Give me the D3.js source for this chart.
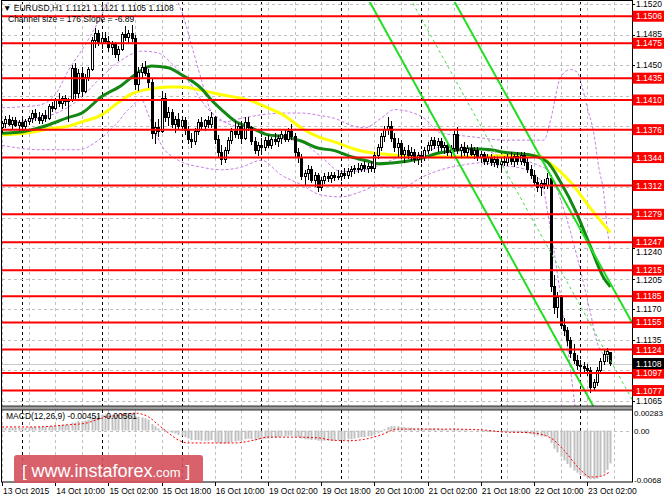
<!DOCTYPE html>
<html><head><meta charset="utf-8">
<script src="https://cdn.jsdelivr.net/npm/d3@7"></script>
<style>body{margin:0;background:#fff}svg{display:block}text{font-family:"Liberation Sans",Arial,sans-serif}</style>
</head><body><svg id="c" width="664" height="498"></svg>
<script>
// ---------------- DATA ----------------
const symbolTitle = "EURUSD,H1";
const lastOHLC = ["1.1121","1.1121","1.1105","1.1108"];
const channelText = "Channel size = 176 Slope = -6.89";
const macdText = "MACD(12,26,9) -0.00451 -0.00561";

const open = [1.1378,1.1383,1.1388,1.1382,1.1386,1.1381,1.1384,1.1380,1.1385,1.1389,
1.1394,1.1390,1.1387,1.1392,1.1389,1.1402,1.1400,1.1410,1.1406,1.1412,
1.1408,1.1410,1.1446,1.1418,1.1440,1.1420,1.1436,1.1445,1.1478,1.1486,
1.1475,1.1480,1.1477,1.1470,1.1474,1.1462,1.1468,1.1485,1.1482,1.1486,
1.1480,1.1428,1.1442,1.1447,1.1440,1.1430,1.1372,1.1378,1.1374,1.1412,
1.1390,1.1396,1.1382,1.1388,1.1380,1.1386,1.1375,1.1365,1.1362,1.1374,
1.1384,1.1380,1.1386,1.1382,1.1390,1.1365,1.1350,1.1342,1.1352,1.1364,
1.1374,1.1370,1.1380,1.1366,1.1384,1.1378,1.1362,1.1352,1.1358,1.1355,
1.1364,1.1358,1.1365,1.1362,1.1366,1.1370,1.1365,1.1374,1.1368,1.1350,
1.1344,1.1322,1.1326,1.1330,1.1318,1.1324,1.1310,1.1318,1.1322,1.1320,
1.1324,1.1321,1.1322,1.1326,1.1324,1.1328,1.1330,1.1332,1.1330,1.1335,
1.1332,1.1334,1.1332,1.1346,1.1356,1.1368,1.1376,1.1380,1.1366,1.1356,
1.1360,1.1348,1.1352,1.1346,1.1350,1.1342,1.1346,1.1344,1.1352,1.1358,
1.1364,1.1358,1.1362,1.1355,1.1358,1.1350,1.1354,1.1370,1.1352,1.1356,
1.1350,1.1354,1.1348,1.1352,1.1344,1.1348,1.1340,1.1344,1.1338,1.1342,
1.1336,1.1340,1.1338,1.1344,1.1340,1.1345,1.1340,1.1346,1.1338,1.1330,
1.1324,1.1316,1.1310,1.1314,1.1312,1.1320,1.1196,1.1172,1.1184,1.1152,
1.1146,1.1134,1.1120,1.1112,1.1106,1.1104,1.1102,1.1100,1.1080,1.1086,
1.1100,1.1110,1.1118,1.1121];
const high = [1.1386,1.1392,1.1393,1.1390,1.1391,1.1387,1.1390,1.1388,1.1392,1.1398,
1.1400,1.1396,1.1395,1.1399,1.1405,1.1408,1.1412,1.1418,1.1415,1.1416,
1.1412,1.1450,1.1452,1.1445,1.1448,1.1440,1.1448,1.1482,1.1492,1.1490,
1.1485,1.1488,1.1483,1.1478,1.1477,1.1472,1.1488,1.1495,1.1490,1.1496,
1.1484,1.1448,1.1452,1.1455,1.1446,1.1434,1.1385,1.1388,1.1420,1.1418,
1.1402,1.1400,1.1392,1.1395,1.1392,1.1390,1.1380,1.1372,1.1378,1.1388,
1.1390,1.1388,1.1392,1.1396,1.1392,1.1370,1.1358,1.1356,1.1368,1.1378,
1.1386,1.1384,1.1386,1.1390,1.1390,1.1380,1.1368,1.1362,1.1366,1.1368,
1.1370,1.1368,1.1372,1.1370,1.1374,1.1376,1.1378,1.1382,1.1372,1.1355,
1.1348,1.1330,1.1336,1.1334,1.1328,1.1326,1.1322,1.1326,1.1328,1.1327,
1.1328,1.1330,1.1329,1.1332,1.1332,1.1334,1.1336,1.1338,1.1338,1.1340,
1.1338,1.1340,1.1350,1.1360,1.1372,1.1380,1.1390,1.1386,1.1372,1.1366,
1.1364,1.1356,1.1358,1.1356,1.1354,1.1350,1.1352,1.1356,1.1362,1.1368,
1.1368,1.1366,1.1366,1.1362,1.1362,1.1358,1.1375,1.1379,1.1360,1.1362,
1.1358,1.1360,1.1356,1.1356,1.1352,1.1350,1.1348,1.1348,1.1346,1.1346,
1.1344,1.1346,1.1348,1.1350,1.1348,1.1350,1.1350,1.1350,1.1344,1.1336,
1.1330,1.1322,1.1318,1.1320,1.1326,1.1324,1.1210,1.1190,1.1186,1.1160,
1.1150,1.1138,1.1130,1.1118,1.1112,1.1110,1.1108,1.1104,1.1090,1.1104,
1.1114,1.1124,1.1126,1.1121];
const low = [1.1372,1.1378,1.1380,1.1376,1.1379,1.1375,1.1378,1.1376,1.1381,1.1384,
1.1386,1.1383,1.1382,1.1385,1.1387,1.1396,1.1398,1.1402,1.1400,1.1403,
1.1385,1.1408,1.1410,1.1412,1.1413,1.1418,1.1432,1.1443,1.1470,1.1472,
1.1468,1.1474,1.1465,1.1462,1.1458,1.1455,1.1466,1.1478,1.1474,1.1476,
1.1422,1.1420,1.1435,1.1438,1.1424,1.1365,1.1360,1.1368,1.1372,1.1385,
1.1380,1.1378,1.1372,1.1377,1.1376,1.1370,1.1360,1.1355,1.1358,1.1370,
1.1376,1.1374,1.1378,1.1378,1.1360,1.1345,1.1335,1.1338,1.1348,1.1360,
1.1366,1.1365,1.1360,1.1364,1.1375,1.1358,1.1348,1.1346,1.1350,1.1352,
1.1355,1.1354,1.1358,1.1356,1.1360,1.1362,1.1362,1.1364,1.1345,1.1338,
1.1318,1.1312,1.1318,1.1315,1.1310,1.1304,1.1306,1.1314,1.1316,1.1315,
1.1317,1.1318,1.1317,1.1320,1.1320,1.1322,1.1325,1.1326,1.1327,1.1328,
1.1326,1.1328,1.1326,1.1342,1.1352,1.1362,1.1370,1.1362,1.1350,1.1344,
1.1342,1.1338,1.1342,1.1340,1.1338,1.1336,1.1338,1.1340,1.1348,1.1352,
1.1354,1.1350,1.1352,1.1348,1.1346,1.1344,1.1350,1.1348,1.1344,1.1346,
1.1344,1.1346,1.1342,1.1340,1.1338,1.1336,1.1335,1.1334,1.1333,1.1332,
1.1330,1.1334,1.1334,1.1336,1.1333,1.1336,1.1336,1.1334,1.1326,1.1320,
1.1312,1.1305,1.1300,1.1308,1.1308,1.1190,1.1165,1.1160,1.1148,1.1140,
1.1128,1.1114,1.1108,1.1100,1.1098,1.1096,1.1094,1.1074,1.1076,1.1082,
1.1096,1.1106,1.1110,1.1105];
const close = [1.1383,1.1388,1.1382,1.1386,1.1381,1.1384,1.1380,1.1385,1.1389,1.1394,
1.1390,1.1387,1.1392,1.1389,1.1402,1.1400,1.1410,1.1406,1.1412,1.1408,
1.1410,1.1446,1.1418,1.1440,1.1420,1.1436,1.1445,1.1478,1.1486,1.1475,
1.1480,1.1477,1.1470,1.1474,1.1462,1.1468,1.1485,1.1482,1.1486,1.1480,
1.1428,1.1442,1.1447,1.1440,1.1430,1.1372,1.1378,1.1374,1.1412,1.1390,
1.1396,1.1382,1.1388,1.1380,1.1386,1.1375,1.1365,1.1362,1.1374,1.1384,
1.1380,1.1386,1.1382,1.1390,1.1365,1.1350,1.1342,1.1352,1.1364,1.1374,
1.1370,1.1380,1.1366,1.1384,1.1378,1.1362,1.1352,1.1358,1.1355,1.1364,
1.1358,1.1365,1.1362,1.1366,1.1370,1.1365,1.1374,1.1368,1.1350,1.1344,
1.1322,1.1326,1.1330,1.1318,1.1324,1.1310,1.1318,1.1322,1.1320,1.1324,
1.1321,1.1322,1.1326,1.1324,1.1328,1.1330,1.1332,1.1330,1.1335,1.1332,
1.1334,1.1332,1.1346,1.1356,1.1368,1.1376,1.1380,1.1366,1.1356,1.1360,
1.1348,1.1352,1.1346,1.1350,1.1342,1.1346,1.1344,1.1352,1.1358,1.1364,
1.1358,1.1362,1.1355,1.1358,1.1350,1.1354,1.1370,1.1352,1.1356,1.1350,
1.1354,1.1348,1.1352,1.1344,1.1348,1.1340,1.1344,1.1338,1.1342,1.1336,
1.1340,1.1338,1.1344,1.1340,1.1345,1.1340,1.1346,1.1338,1.1330,1.1324,
1.1316,1.1310,1.1314,1.1312,1.1320,1.1196,1.1172,1.1184,1.1152,1.1146,
1.1134,1.1120,1.1112,1.1106,1.1104,1.1102,1.1100,1.1080,1.1086,1.1100,
1.1110,1.1118,1.1122,1.1108];

// moving averages as [bar index, price]
const maGreen = [[0,1.1372],[5,1.1373],[12,1.1379],[20,1.1390],[24,1.1395],[30,1.1414],[36,1.1427],[40,1.1439],[45,1.1449],[50,1.1447],[54,1.1439],[60,1.1423],[63,1.1410],[66,1.1399],[70,1.1386],[75,1.1378],[80,1.1370],[85,1.1368],[90,1.1363],[95,1.1355],[100,1.1352],[105,1.1345],[110,1.1340],[113,1.1337],[120,1.1339],[126,1.1343],[131,1.1349],[136,1.1352],[141,1.1354],[147,1.1353],[151,1.1350],[159,1.1347],[164,1.1339],[168,1.1316],[173,1.1279],[177,1.1242],[181,1.1206],[183,1.1196]];
const maYellow = [[0,1.1370],[9,1.1373],[14,1.1377],[20,1.1380],[24,1.1385],[30,1.1393],[35,1.1407],[39,1.1417],[45,1.1423],[50,1.1425],[54,1.1425],[60,1.1421],[66,1.1416],[75,1.1409],[80,1.1401],[85,1.1392],[90,1.1378],[95,1.1368],[100,1.1362],[105,1.1355],[110,1.1350],[115,1.1348],[121,1.1346],[131,1.1345],[141,1.1345],[151,1.1346],[161,1.1346],[165,1.1337],[171,1.1316],[177,1.1286],[183,1.1258]];
// Bollinger bands (dotted violet)
const bbUpper = [[0,1.1401],[5,1.1402],[11,1.1404],[16,1.1416],[20,1.1444],[25,1.1473],[29,1.1500],[33,1.1530],[38,1.1545],[45,1.1550],[50,1.1540],[54,1.1512],[57,1.1473],[60,1.1433],[63,1.1396],[67,1.1385],[72,1.1389],[78,1.1393],[85,1.1395],[90,1.1395],[96,1.1392],[100,1.1389],[105,1.1381],[109,1.1378],[114,1.1389],[118,1.1399],[123,1.1396],[127,1.1389],[132,1.1372],[136,1.1370],[141,1.1368],[151,1.1364],[159,1.1364],[163,1.1364],[165,1.1387],[168,1.1436],[171,1.1445],[173,1.1442],[174.5,1.1425],[176,1.1402],[178,1.1372],[179.5,1.1333],[181,1.1303],[182,1.1264],[183,1.1238]];
const bbMiddle = [[0,1.1382],[5,1.1385],[11,1.1389],[17,1.1396],[23,1.1410],[29,1.1433],[36,1.1456],[42,1.1466],[47,1.1464],[51,1.1452],[57,1.1427],[61,1.1404],[66,1.1387],[72,1.1378],[78,1.1374],[84,1.1366],[90,1.1362],[96,1.1345],[102,1.1328],[108,1.1329],[114,1.1336],[120,1.1345],[126,1.1348],[132,1.1356],[138,1.1356],[144,1.1354],[150,1.1346],[156,1.1342],[162,1.1334],[164,1.1330],[166,1.1316],[170,1.1272],[173,1.1230],[177,1.1166],[179,1.1132],[182,1.1115],[183,1.1112]];
const bbLower = [[0,1.1358],[5,1.1355],[11,1.1353],[17,1.1353],[23,1.1353],[29,1.1364],[34,1.1381],[38,1.1399],[42,1.1410],[44,1.1393],[48,1.1358],[53,1.1341],[60,1.1333],[66,1.1330],[72,1.1333],[78,1.1341],[84,1.1324],[90,1.1313],[96,1.1301],[102,1.1299],[108,1.1305],[114,1.1313],[120,1.1309],[126,1.1321],[132,1.1330],[138,1.1335],[144,1.1338],[150,1.1335],[156,1.1332],[162,1.1318],[165,1.1261],[169,1.1158],[171,1.1101],[172.5,1.1055]];

// regression channel
const channelSlope = -0.000689;   // per bar (-6.89 pips)
const channelSize = 0.0176;       // 176 pips
const channelAnchorBar = 150;
const channelLowerAtAnchor = 1.1251;

// support / resistance levels
const levels = [1.1506,1.1475,1.1435,1.1410,1.1376,1.1344,1.1312,1.1279,1.1247,1.1215,1.1185,1.1155,1.1124,1.1097,1.1077];
const priceTicks = [1.1520,1.1485,1.1450,1.1415,1.1380,1.1345,1.1310,1.1275,1.1240,1.1205,1.1170,1.1135,1.1100,1.1065];
const bidPrice = 1.1108;

// MACD
const macdHist = [0.0004,0.0004,0.0004,0.0004,0.0004,0.0004,0.0004,0.0004,0.0005,0.0005,
0.0005,0.0005,0.0005,0.0005,0.0006,0.0006,0.0007,0.0007,0.0008,0.0008,
0.0008,0.0011,0.0011,0.0013,0.0013,0.0014,0.0015,0.0018,0.0020,0.0021,
0.0022,0.0022,0.0022,0.0022,0.0021,0.0021,0.0022,0.0023,0.0024,0.0024,
0.0020,0.0019,0.0018,0.0017,0.0015,0.0009,0.0006,0.0003,0.0003,0.0001,
-0.0001,-0.0003,-0.0004,-0.0006,-0.0007,-0.0009,-0.0011,-0.0013,-0.0013,-0.0013,
-0.0014,-0.0014,-0.0014,-0.0013,-0.0015,-0.0017,-0.0018,-0.0018,-0.0017,-0.0016,
-0.0015,-0.0014,-0.0014,-0.0012,-0.0011,-0.0012,-0.0013,-0.0012,-0.0012,-0.0011,
-0.0011,-0.0010,-0.0010,-0.0009,-0.0008,-0.0008,-0.0007,-0.0007,-0.0008,-0.0009,
-0.0011,-0.0012,-0.0012,-0.0013,-0.0013,-0.0014,-0.0014,-0.0014,-0.0014,-0.0014,
-0.0014,-0.0013,-0.0013,-0.0013,-0.0012,-0.0012,-0.0011,-0.0010,-0.0009,-0.0009,
-0.0008,-0.0008,-0.0006,-0.0004,-0.0001,0.0002,0.0005,0.0006,0.0006,0.0006,
0.0005,0.0005,0.0004,0.0004,0.0003,0.0003,0.0002,0.0002,0.0003,0.0003,
0.0003,0.0003,0.0002,0.0002,0.0001,0.0001,0.0003,0.0002,0.0002,0.0001,
0.0001,0.0000,0.0000,-0.0001,-0.0001,-0.0001,-0.0002,-0.0002,-0.0002,-0.0002,
-0.0002,-0.0002,-0.0002,-0.0002,-0.0002,-0.0002,-0.0002,-0.0003,-0.0004,-0.0005,
-0.0006,-0.0007,-0.0008,-0.0008,-0.0008,-0.0017,-0.0025,-0.0030,-0.0036,-0.0041,
-0.0046,-0.0051,-0.0055,-0.0058,-0.0061,-0.0063,-0.0065,-0.0067,-0.0067,-0.0066,
-0.0063,-0.0059,-0.0054,-0.00451];
const macdSignal = [[0,0.0005],[10,0.0005],[20,0.0008],[25,0.0010],[30,0.0017],[35,0.0021],[40,0.0024],[44,0.0019],[47,0.0008],[50,-0.0003],[53,-0.0013],[56,-0.0017],[70,-0.0017],[76,-0.0013],[80,-0.0009],[88,-0.0009],[95,-0.0010],[99,-0.0013],[104,-0.0014],[109,-0.0012],[114,-0.0006],[119,0.0002],[126,0.0002],[134,0.0002],[144,0.0001],[151,-0.0002],[159,-0.0003],[165,-0.0010],[169,-0.0027],[174,-0.0054],[177,-0.0064],[180,-0.0063],[183,-0.00561]];
const macdTicks = [0.00283, 0.00, -0.0068];
const macdTickLabels = ["0.00283","0.00","-0.0068"];

// time axis
const timeLabels = ["13 Oct 2015","14 Oct 10:00","15 Oct 02:00","15 Oct 18:00","16 Oct 10:00","19 Oct 02:00","19 Oct 18:00","20 Oct 10:00","21 Oct 02:00","21 Oct 18:00","22 Oct 10:00","23 Oct 02:00"];
const labelStepBars = 16, gridStepBars = 8;
const daySeparatorBars = [6,30,54,78,102,126,150,174];

// ---------------- DRAW ----------------
const svg = d3.select("#c");
const L = 2, R = 632, mTop = 2, mBot = 406, dTop = 410, dBot = 482;
const x = d3.scaleLinear().domain([0, 189.5]).range([L, R]);
const y = d3.scaleLinear().domain([1.10593, 1.15223]).range([mBot, mTop]);
const ym = d3.scaleLinear().domain([-0.0068, 0.00283]).range([480, dTop]);

svg.append("rect").attr("width",664).attr("height",498).attr("fill","#fff");
const defs = svg.append("defs");
defs.append("clipPath").attr("id","cm").append("rect").attr("x",L).attr("y",mTop).attr("width",R-L).attr("height",mBot-mTop);
defs.append("clipPath").attr("id","cd").append("rect").attr("x",L).attr("y",dTop).attr("width",R-L).attr("height",dBot-dTop);

const gm = svg.append("g").attr("clip-path","url(#cm)");
const gd = svg.append("g").attr("clip-path","url(#cd)");

// grid
const gridBars = d3.range(0, 190, gridStepBars);
[gm, gd].forEach((g, k) => {
  g.selectAll(null).data(gridBars).join("line")
    .attr("x1",d=>Math.round(x(d))+0.5).attr("x2",d=>Math.round(x(d))+0.5)
    .attr("y1",k?dTop:mTop).attr("y2",k?dBot:mBot)
    .attr("stroke","#c0c0c0").attr("stroke-dasharray","3,3");
  g.selectAll(null).data(daySeparatorBars).join("line")
    .attr("x1",d=>Math.round(x(d))+0.5).attr("x2",d=>Math.round(x(d))+0.5)
    .attr("y1",k?dTop:mTop).attr("y2",k?dBot:mBot)
    .attr("stroke","#000").attr("stroke-dasharray","3,3");
});
gm.selectAll(null).data(priceTicks).join("line")
  .attr("x1",L).attr("x2",R).attr("y1",d=>Math.round(y(d))+0.5).attr("y2",d=>Math.round(y(d))+0.5)
  .attr("stroke","#c0c0c0").attr("stroke-dasharray","3,3");
gd.append("line").attr("x1",L).attr("x2",R).attr("y1",Math.round(ym(0))+0.5).attr("y2",Math.round(ym(0))+0.5)
  .attr("stroke","#c0c0c0").attr("stroke-dasharray","3,3");

// bid line
gm.append("line").attr("x1",L).attr("x2",R).attr("y1",Math.round(y(bidPrice))+0.5).attr("y2",Math.round(y(bidPrice))+0.5).attr("stroke","#c8c8c8");

// bollinger bands
const ln = d3.line().x(d=>x(d[0])).y(d=>y(d[1])).curve(d3.curveMonotoneX);
[bbUpper, bbMiddle, bbLower].forEach(s => gm.append("path").attr("d", ln(s)).attr("fill","none")
  .attr("stroke","#c77ee6").attr("stroke-width",1).attr("stroke-dasharray","3,2"));

// moving averages
gm.append("path").attr("d", ln(maYellow)).attr("fill","none").attr("stroke","#ffff00").attr("stroke-width",3);
gm.append("path").attr("d", ln(maGreen)).attr("fill","none").attr("stroke","#128712").attr("stroke-width",3);

// candles
const bars = close.map((c,i)=>({i,o:open[i],h:high[i],l:low[i],c}));
const cg = gm.append("g").attr("shape-rendering","crispEdges");
cg.selectAll("line").data(bars).join("line")
  .attr("x1",d=>Math.round(x(d.i))+0.5).attr("x2",d=>Math.round(x(d.i))+0.5)
  .attr("y1",d=>y(d.h)).attr("y2",d=>y(d.l)).attr("stroke","#000");
cg.selectAll("rect").data(bars).join("rect")
  .attr("x",d=>Math.round(x(d.i))-0.5).attr("width",2)
  .attr("y",d=>Math.min(y(d.o),y(d.c))).attr("height",d=>Math.max(1,Math.abs(y(d.o)-y(d.c))))
  .attr("fill",d=>d.c>=d.o?"#fff":"#000").attr("stroke","#000").attr("stroke-width",1);

// channel
const chLow = i => channelLowerAtAnchor + channelSlope*(i-channelAnchorBar);
const chBars = [100, 189.5];
const chLine = off => d3.line().x(i=>x(i)).y(i=>y(chLow(i)+off))(chBars);
gm.append("path").attr("d",chLine(0)).attr("stroke","#22dd22").attr("stroke-width",2).attr("fill","none");
gm.append("path").attr("d",chLine(channelSize)).attr("stroke","#22dd22").attr("stroke-width",2).attr("fill","none");
gm.append("path").attr("d",chLine(channelSize/2)).attr("stroke","#44dd44").attr("stroke-width",1).attr("stroke-dasharray","3,3").attr("fill","none");

// levels
gm.selectAll(null).data(levels).join("line")
  .attr("x1",L).attr("x2",R).attr("y1",d=>y(d)).attr("y2",d=>y(d))
  .attr("stroke","#ff0000").attr("stroke-width",2);

// MACD
gd.selectAll(null).data(macdHist).join("rect")
  .attr("x",(d,i)=>Math.round(x(i))-0.5).attr("width",2)
  .attr("y",d=>Math.min(ym(0),ym(d))).attr("height",d=>Math.abs(ym(d)-ym(0)))
  .attr("fill","#c0c0c0");
gd.append("path").attr("d", d3.line().x(d=>x(d[0])).y(d=>ym(d[1])).curve(d3.curveMonotoneX)(macdSignal))
  .attr("fill","none").attr("stroke","#ff0000").attr("stroke-width",1).attr("stroke-dasharray","2,2");

// frames
svg.append("rect").attr("x",1.5).attr("y",0.5).attr("width",R-1).attr("height",dBot-0.5).attr("fill","none").attr("stroke","#000");
svg.append("rect").attr("x",1.5).attr("y",mBot).attr("width",R-1).attr("height",dTop-mBot).attr("fill","#a0a0a0").attr("stroke","#000").attr("stroke-width",0.8);

// price axis: labels covered by a level box are hidden, near ones nudged clear of the box
const boxed = levels.concat([bidPrice]);
const tickInfo = priceTicks.map(t => {
  const ty = y(t);
  let near = null, dist = 1e9;
  boxed.forEach(b => { const d = Math.abs(y(b)-ty); if (d < dist) { dist = d; near = y(b); } });
  let ly = ty;
  if (dist < 9.5) ly = ty < near ? near - 9.5 : near + 9.5;
  return {t, ly, show: dist >= 5};
});
const ax = svg.append("g");
ax.selectAll(null).data(priceTicks).join("line").attr("x1",R).attr("x2",R+3).attr("y1",d=>Math.round(y(d))+0.5).attr("y2",d=>Math.round(y(d))+0.5).attr("stroke","#000");
ax.selectAll(null).data(tickInfo.filter(d=>d.show)).join("text").attr("x",R+4).attr("y",d=>d.ly+3).attr("font-size",8.5).attr("fill","#000").text(d=>d.t.toFixed(4));
const lv = ax.selectAll(null).data(levels).join("g").attr("transform",d=>`translate(${R},${y(d)})`);
lv.append("rect").attr("x",0.5).attr("y",-5.5).attr("width",31.5).attr("height",11).attr("fill","#ff0000");
lv.append("text").attr("x",4).attr("y",3).attr("font-size",8.5).attr("fill","#fff").text(d=>d.toFixed(4));
const bid = ax.append("g").attr("transform",`translate(${R},${y(bidPrice)})`);
bid.append("rect").attr("x",0.5).attr("y",-5.5).attr("width",31.5).attr("height",11).attr("fill","#000");
bid.append("text").attr("x",4).attr("y",3).attr("font-size",8.5).attr("fill","#fff").text(bidPrice.toFixed(4));

// macd axis
ax.selectAll(null).data(macdTicks).join("text").attr("x",R+2).attr("y",(d,i)=>ym(d)+(i===0?6:3)).attr("font-size",8).text((d,i)=>macdTickLabels[i]);

// time axis
const tl = timeLabels.map((t,k)=>({t,b:k*labelStepBars}));
ax.selectAll(null).data(tl).join("line").attr("x1",d=>Math.round(x(d.b))+0.5).attr("x2",d=>Math.round(x(d.b))+0.5).attr("y1",dBot).attr("y2",dBot+4).attr("stroke","#000");
ax.selectAll(null).data(tl).join("text").attr("x",d=>x(d.b)+1).attr("y",494).attr("font-size",8.5).text(d=>d.t);

// titles
svg.append("text").attr("x",3).attr("y",11).attr("font-size",8.5).text("▼ " + symbolTitle + "  " + lastOHLC.join(" "));
svg.append("text").attr("x",8).attr("y",22).attr("font-size",8.5).text(channelText);
svg.append("text").attr("x",6).attr("y",419).attr("font-size",8.5).text(macdText);

// watermark
const wm = svg.append("g");
wm.append("rect").attr("x",14).attr("y",455).attr("width",189).attr("height",28).attr("rx",3).attr("fill","#d4505b").attr("opacity",0.9);
const wt = wm.append("text").attr("x",22).attr("y",477).attr("fill","#fff");
wt.append("tspan").attr("font-size",17).text("[ ");
wt.append("tspan").attr("font-size",18).text("www.instaforex");
wt.append("tspan").attr("font-size",13).text(".com");
wt.append("tspan").attr("font-size",17).text(" ]");
</script></body></html>
